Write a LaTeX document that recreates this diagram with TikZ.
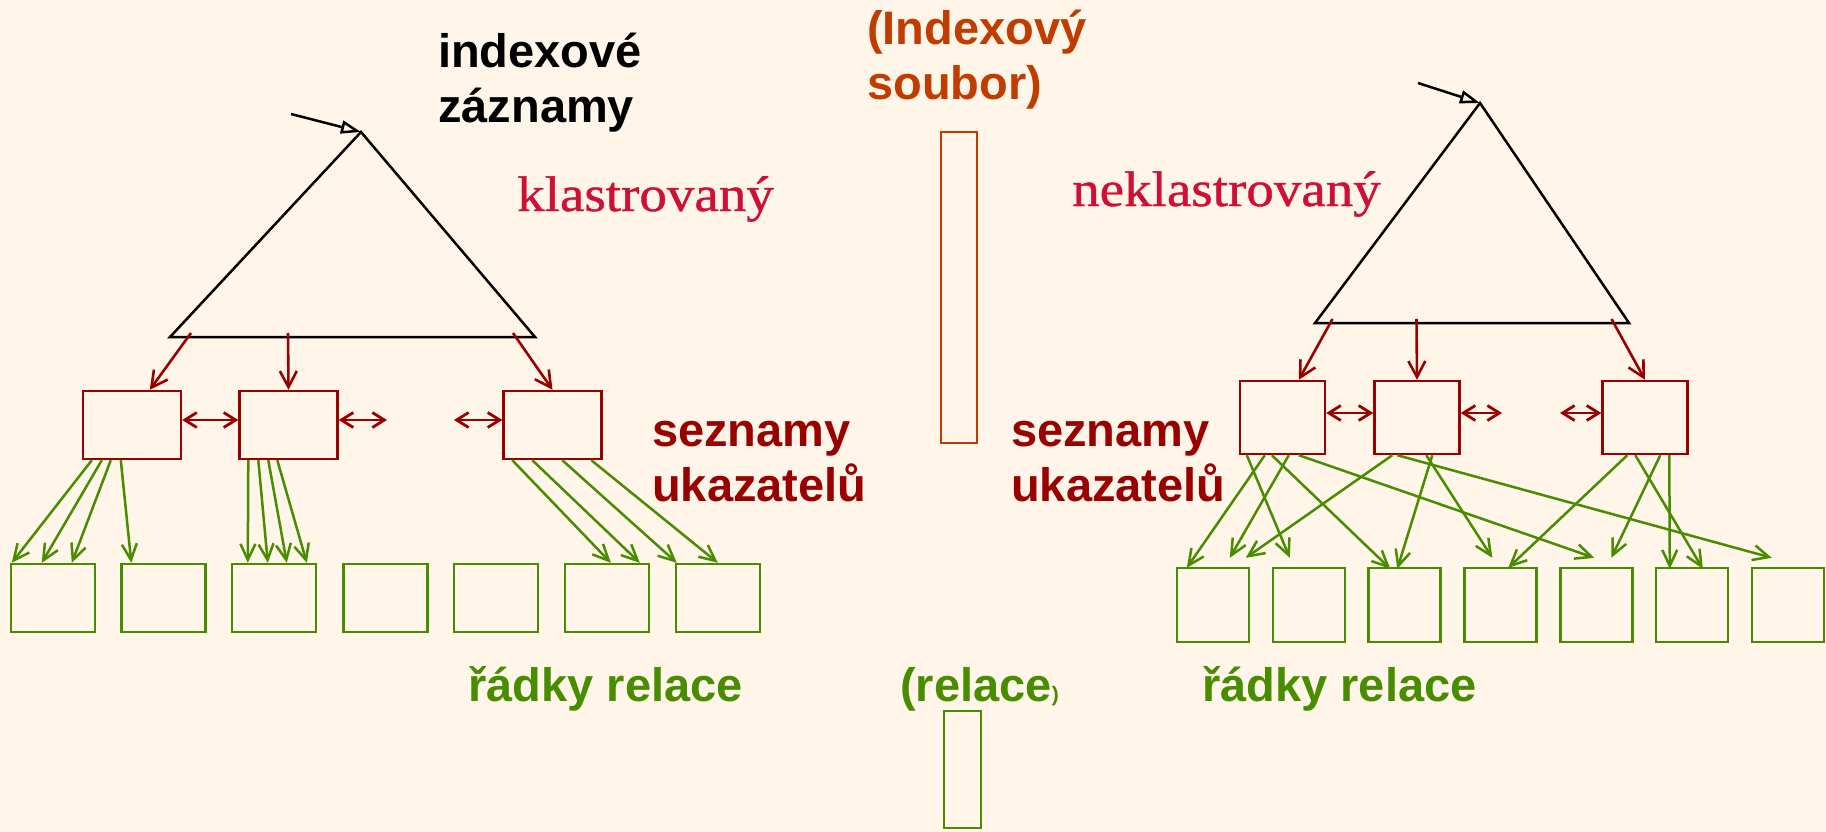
\documentclass[tikz,border=0pt]{standalone}
\usepackage{fontspec}
\setmainfont{Liberation Sans}
\newfontfamily\titleserif{Liberation Serif}[FakeStretch=1.1,FakeBold=0.8]
\usetikzlibrary{arrows.meta}

\definecolor{paper}{RGB}{255,245,233}
\definecolor{ptrred}{RGB}{153,0,0}
\definecolor{rowgreen}{RGB}{72,140,0}
\definecolor{filebrown}{RGB}{192,60,0}
\definecolor{kindred}{RGB}{206,16,52}

\tikzset{
  lbl/.style={inner sep=0pt, align=left, font=\fontsize{47}{55}\selectfont\bfseries},
  kind/.style={inner sep=0pt, font=\fontsize{50}{54}\selectfont\titleserif, text=kindred},
  tree/.style={draw=black, line width=2.5pt, line join=miter},
  entry/.style={draw=black, line width=2.5pt, -{Triangle[open,length=20pt,width=13pt]}},
  ptrbox/.style={draw=ptrred, line width=2.4pt, inner sep=0pt},
  lptr/.style={ptrbox, minimum width=98pt, minimum height=68pt},
  rptr/.style={ptrbox, minimum width=85pt, minimum height=73pt},
  rowbox/.style={draw=rowgreen, line width=2.4pt, inner sep=0pt},
  lrow/.style={rowbox, minimum width=84pt, minimum height=68pt},
  rrow/.style={rowbox, minimum width=72pt, minimum height=74pt},
  down/.style={draw=ptrred, line width=2.6pt, -{Straight Barb[length=16pt,width=17pt]}},
  link/.style={draw=ptrred, line width=2.8pt, {Straight Barb[length=12pt,width=15pt]}-{Straight Barb[length=12pt,width=15pt]}},
  rowptr/.style={draw=rowgreen, line width=2.5pt, -{Straight Barb[length=16pt,width=15pt]}},
}

\begin{document}
\begin{tikzpicture}[x=1pt,y=-1pt]
  \fill[paper] (0,0) rectangle (1826,832);
  \useasboundingbox (0,0) rectangle (1826,832);

  % ---------- clustered index (left) ----------
  \node[lbl, anchor=base west] (idxrec) at (438,123) {indexové\\záznamy};
  \node[kind, anchor=base west] (clus) at (517,211) {klastrovaný};

  \coordinate (LA) at (361,132);
  \coordinate (LB) at (170,337);
  \coordinate (LC) at (535,337);
  \coordinate (Lin) at (291,114);
  \draw[tree] (LA) -- (LB) -- (LC) -- cycle;
  \draw[entry] (Lin) -- (LA);

  \node[lptr] (L1) at (132,425) {};
  \node[lptr] (L2) at (288.5,425) {};
  \node[lptr] (L3) at (552.5,425) {};

  \coordinate (lb1) at (191,333);
  \coordinate (lb2) at (288,333);
  \coordinate (lb3) at (513,333);
  \draw[down] (lb1) -- ([xshift=68pt]L1.north west);
  \draw[down] (lb2) -- (L2.north);
  \draw[down] (lb3) -- (L3.north);

  \coordinate (lgapA) at (387,420);
  \coordinate (lgapB) at (454,420);
  \draw[link] ([yshift=5pt]L1.east) -- ([yshift=5pt]L2.west);
  \draw[link] ([yshift=5pt]L2.east) -- (lgapA);
  \draw[link] (lgapB) -- ([yshift=5pt]L3.west);

  \node[lbl, anchor=base west, text=ptrred] (lists1) at (652,501) {seznamy\\ukazatelů};

  \foreach \i/\x in {1/53,2/163.5,3/274,4/385.5,5/496,6/607,7/718}
    \node[lrow] (gl\i) at (\x,598) {};

  \draw[rowptr] ([xshift=10pt]L1.south west) -- ([xshift=2pt]gl1.north west);
  \draw[rowptr] ([xshift=20pt]L1.south west) -- ([xshift=32pt]gl1.north west);
  \draw[rowptr] ([xshift=29pt]L1.south west) -- ([xshift=62pt]gl1.north west);
  \draw[rowptr] ([xshift=39pt]L1.south west) -- ([xshift=11pt]gl2.north west);

  \draw[rowptr] ([xshift=10pt]L2.south west) -- ([xshift=17pt]gl3.north west);
  \draw[rowptr] ([xshift=20pt]L2.south west) -- ([xshift=37pt]gl3.north west);
  \draw[rowptr] ([xshift=30pt]L2.south west) -- ([xshift=56pt]gl3.north west);
  \draw[rowptr] ([xshift=39pt]L2.south west) -- ([xshift=76pt]gl3.north west);

  \draw[rowptr] ([xshift=10pt]L3.south west) -- ([xshift=47pt]gl6.north west);
  \draw[rowptr] ([xshift=30pt]L3.south west) -- ([xshift=76pt]gl6.north west);
  \draw[rowptr] ([xshift=60pt]L3.south west) -- ([xshift=2pt]gl7.north west);
  \draw[rowptr] ([xshift=89pt]L3.south west) -- ([xshift=43pt]gl7.north west);

  \node[lbl, anchor=base east, text=rowgreen] (rows1) at (743,701) {řádky relace};

  % ---------- files in the middle ----------
  \node[lbl, anchor=base west, text=filebrown] (idxfile) at (867,100) {(Indexový\\soubor)};
  \node[draw=filebrown, line width=2.4pt, inner sep=0pt, minimum width=36pt, minimum height=311pt] (idxbar) at (959,287.5) {};
  \node[lbl, anchor=base west, text=rowgreen] (relfile) at (900,701) {(relace{\fontsize{21}{21}\selectfont)}};
  \node[rowbox, minimum width=37pt, minimum height=117pt] (relbar) at (962.5,769.5) {};

  % ---------- non-clustered index (right) ----------
  \node[kind, anchor=base west] (nonclus) at (1072,206) {neklastrovaný};

  \coordinate (RA) at (1480,103);
  \coordinate (RB) at (1315,323);
  \coordinate (RC) at (1629,323);
  \coordinate (Rin) at (1418,83);
  \draw[tree] (RA) -- (RB) -- (RC) -- cycle;
  \draw[entry] (Rin) -- (RA);

  \node[rptr] (R1) at (1282.5,417.5) {};
  \node[rptr] (R2) at (1417,417.5) {};
  \node[rptr] (R3) at (1645,417.5) {};

  \coordinate (rb1) at (1332.5,319);
  \coordinate (rb2) at (1416.5,319);
  \coordinate (rb3) at (1611.5,319);
  \draw[down] (rb1) -- ([xshift=60pt]R1.north west);
  \draw[down] (rb2) -- (R2.north);
  \draw[down] (rb3) -- (R3.north);

  \coordinate (rgapA) at (1502,413);
  \coordinate (rgapB) at (1560,413);
  \draw[link] ([yshift=4.5pt]R1.east) -- ([yshift=4.5pt]R2.west);
  \draw[link] ([yshift=4.5pt]R2.east) -- (rgapA);
  \draw[link] (rgapB) -- ([yshift=4.5pt]R3.west);

  \node[lbl, anchor=base west, text=ptrred] (lists2) at (1011,501) {seznamy\\ukazatelů};

  \foreach \i/\x in {1/1213,2/1309,3/1404.5,4/1500.5,5/1596.5,6/1692,7/1788}
    \node[rrow] (gr\i) at (\x,605) {};

  \draw[rowptr] ([xshift=26pt]R1.south west) -- ([xshift=11pt,yshift=-1pt]gr1.north west);
  \draw[rowptr] ([xshift=50pt]R1.south west) -- ([xshift=54pt,yshift=9pt]gr1.north west);
  \draw[rowptr] ([xshift=8pt]R1.south west) -- ([xshift=18pt,yshift=9pt]gr2.north west);
  \draw[rowptr] ([xshift=33pt]R1.south west) -- ([xshift=23pt,yshift=-2pt]gr3.north west);
  \draw[rowptr] ([xshift=60pt]R1.south west) -- ([xshift=35pt,yshift=9pt]gr5.north west);

  \draw[rowptr] ([xshift=19pt]R2.south west) -- ([xshift=70pt,yshift=9pt]gr1.north west);
  \draw[rowptr] ([xshift=59pt]R2.south west) -- ([xshift=30pt,yshift=-2pt]gr3.north west);
  \draw[rowptr] ([xshift=53pt]R2.south west) -- ([xshift=29pt,yshift=9pt]gr4.north west);
  \draw[rowptr] ([xshift=24pt]R2.south west) -- ([xshift=21pt,yshift=9pt]gr7.north west);

  \draw[rowptr] ([xshift=26pt]R3.south west) -- ([xshift=45pt,yshift=-1pt]gr4.north west);
  \draw[rowptr] ([xshift=59pt]R3.south west) -- ([xshift=52pt,yshift=9pt]gr5.north west);
  \draw[rowptr] ([xshift=68pt]R3.south west) -- ([xshift=15pt,yshift=-2pt]gr6.north west);
  \draw[rowptr] ([xshift=34pt]R3.south west) -- ([xshift=48pt,yshift=-2pt]gr6.north west);

  \node[lbl, anchor=base west, text=rowgreen] (rows2) at (1202,701) {řádky relace};
\end{tikzpicture}
\end{document}
